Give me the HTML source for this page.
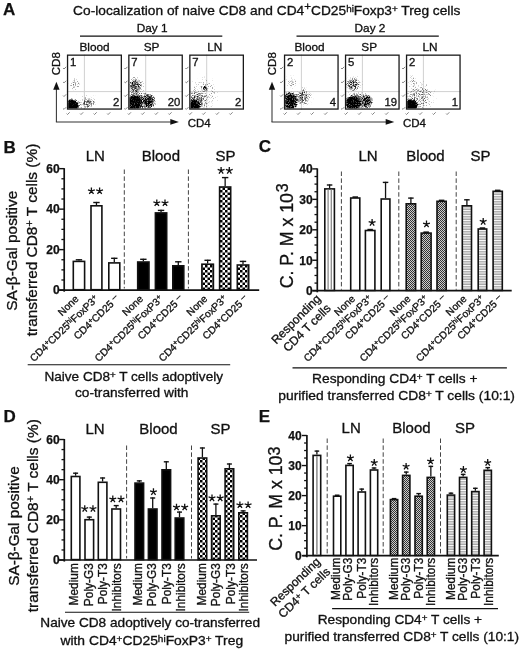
<!DOCTYPE html>
<html><head><meta charset="utf-8"><style>
html,body{margin:0;padding:0;background:#fff;}
svg{display:block;font-family:"Liberation Sans", sans-serif;will-change:transform;}
text{stroke:#111;stroke-width:0.32px;}
text[font-weight=bold]{stroke-width:0.25px;}
</style></head><body>
<svg width="520" height="650" viewBox="0 0 520 650">
<defs>
<pattern id="chk" patternUnits="userSpaceOnUse" width="5" height="5" x="0" y="0">
 <rect width="5" height="5" fill="#fff"/><rect width="2.5" height="2.5" fill="#000"/><rect x="2.5" y="2.5" width="2.5" height="2.5" fill="#000"/>
</pattern>
<pattern id="fine" patternUnits="userSpaceOnUse" width="2" height="2">
 <rect width="2" height="2" fill="#ccc"/><rect width="1" height="1" fill="#333"/><rect x="1" y="1" width="1" height="1" fill="#333"/>
</pattern>
<pattern id="hs" patternUnits="userSpaceOnUse" width="4" height="2.5">
 <rect width="4" height="2.5" fill="#a8a8a8"/><rect y="0" width="4" height="1" fill="#fff"/>
</pattern>
<filter id="b1" x="-50%" y="-50%" width="200%" height="200%"><feGaussianBlur stdDeviation="1"/></filter>
<filter id="b2" x="-50%" y="-50%" width="200%" height="200%"><feGaussianBlur stdDeviation="2"/></filter>
<filter id="b3" x="-50%" y="-50%" width="200%" height="200%"><feGaussianBlur stdDeviation="3"/></filter>
</defs>
<rect width="520" height="650" fill="#fff"/>
<text x="3.10" y="15.40" font-size="17" text-anchor="start" font-weight="bold" fill="#111">A</text>
<text x="73.10" y="14.80" font-size="13" text-anchor="start" font-weight="normal" fill="#111" textLength="387.20" lengthAdjust="spacingAndGlyphs">Co-localization of naive CD8 and CD4<tspan baseline-shift="45%" font-size="85%">+</tspan>CD25<tspan baseline-shift="38%" font-size="72%">hi</tspan>Foxp3<tspan baseline-shift="38%" font-size="72%">+</tspan> Treg cells</text>
<line x1="80.00" y1="36.10" x2="222.30" y2="36.10" stroke="#111" stroke-width="1.1"/>
<line x1="296.50" y1="36.10" x2="438.80" y2="36.10" stroke="#111" stroke-width="1.1"/>
<text x="152.10" y="32.30" font-size="11.8" text-anchor="middle" font-weight="normal" fill="#111">Day 1</text>
<text x="370.00" y="32.30" font-size="11.8" text-anchor="middle" font-weight="normal" fill="#111">Day 2</text>
<clipPath id="cp0"><rect x="68.20" y="55.80" width="52.50" height="52.60"/></clipPath>
<line x1="84.40" y1="54.50" x2="84.40" y2="109.70" stroke="#d0d0d0" stroke-width="1"/>
<line x1="66.90" y1="91.60" x2="122.00" y2="91.60" stroke="#d0d0d0" stroke-width="1"/>
<filter id="spk0" filterUnits="userSpaceOnUse" x="66.9" y="54.5" width="55.099999999999994" height="55.2"><feTurbulence type="fractalNoise" baseFrequency="0.9" numOctaves="2" seed="3" result="t"/><feColorMatrix in="t" type="matrix" values="0 0 0 0 0  0 0 0 0 0  0 0 0 0 0  2.2 0 0 0 -0.6" result="n"/><feComposite in="SourceGraphic" in2="n" operator="arithmetic" k1="0" k2="1.9" k3="1" k4="-1.0"/><feGaussianBlur stdDeviation="0.35"/></filter>
<g clip-path="url(#cp0)"><g filter="url(#spk0)">
<rect x="66.9" y="54.5" width="55.099999999999994" height="55.2" fill="#000" opacity="0.001"/>
<ellipse cx="82" cy="104" rx="13" ry="6" fill="#000" opacity="0.25" filter="url(#b3)"/>
<ellipse cx="75" cy="84" rx="5" ry="5" fill="#000" opacity="0.35" filter="url(#b2)"/>
<ellipse cx="89" cy="102.5" rx="6" ry="5" fill="#000" opacity="0.4" filter="url(#b2)"/>
<ellipse cx="71" cy="106.5" rx="7.5" ry="7" fill="#000" opacity="1" filter="url(#b1)"/>
</g></g>
<rect x="67.55" y="55.15" width="53.80" height="53.90" fill="none" stroke="#1a1a1a" stroke-width="1.3"/>
<text x="94.50" y="50.70" font-size="11.8" text-anchor="middle" font-weight="normal" fill="#111">Blood</text>
<text x="69.90" y="66.20" font-size="11.3" text-anchor="start" font-weight="normal" fill="#111">1</text>
<text x="119.40" y="106.40" font-size="11.3" text-anchor="end" font-weight="normal" fill="#111">2</text>
<path d="M63.10,68.10l0.9,0.9l2.2,-2.2" stroke="#7a7a7a" stroke-width="0.95" fill="none"/>
<path d="M63.10,82.00l0.9,0.9l2.2,-2.2" stroke="#7a7a7a" stroke-width="0.95" fill="none"/>
<path d="M63.10,95.60l0.9,0.9l2.2,-2.2" stroke="#7a7a7a" stroke-width="0.95" fill="none"/>
<path d="M63.10,108.50l0.9,0.9l2.2,-2.2" stroke="#7a7a7a" stroke-width="0.95" fill="none"/>
<path d="M66.60,113.60l0.9,0.9l2.2,-2.2" stroke="#7a7a7a" stroke-width="0.95" fill="none"/>
<path d="M80.10,113.60l0.9,0.9l2.2,-2.2" stroke="#7a7a7a" stroke-width="0.95" fill="none"/>
<path d="M93.60,113.60l0.9,0.9l2.2,-2.2" stroke="#7a7a7a" stroke-width="0.95" fill="none"/>
<path d="M107.20,113.60l0.9,0.9l2.2,-2.2" stroke="#7a7a7a" stroke-width="0.95" fill="none"/>
<clipPath id="cp1"><rect x="129.50" y="55.80" width="52.10" height="52.60"/></clipPath>
<line x1="145.70" y1="54.50" x2="145.70" y2="109.70" stroke="#d0d0d0" stroke-width="1"/>
<line x1="128.20" y1="91.60" x2="182.90" y2="91.60" stroke="#d0d0d0" stroke-width="1"/>
<filter id="spk1" filterUnits="userSpaceOnUse" x="128.2" y="54.5" width="54.70000000000002" height="55.2"><feTurbulence type="fractalNoise" baseFrequency="0.9" numOctaves="2" seed="10" result="t"/><feColorMatrix in="t" type="matrix" values="0 0 0 0 0  0 0 0 0 0  0 0 0 0 0  2.2 0 0 0 -0.6" result="n"/><feComposite in="SourceGraphic" in2="n" operator="arithmetic" k1="0" k2="1.9" k3="1" k4="-1.0"/><feGaussianBlur stdDeviation="0.35"/></filter>
<g clip-path="url(#cp1)"><g filter="url(#spk1)">
<rect x="128.2" y="54.5" width="54.70000000000002" height="55.2" fill="#000" opacity="0.001"/>
<ellipse cx="135" cy="86" rx="7" ry="8" fill="#000" opacity="0.58" filter="url(#b2)"/>
<ellipse cx="142" cy="101" rx="12" ry="8" fill="#000" opacity="0.5" filter="url(#b2)"/>
<ellipse cx="149.5" cy="101.5" rx="5.5" ry="7" fill="#000" opacity="0.5" filter="url(#b1)"/>
<ellipse cx="134" cy="103" rx="7.5" ry="8" fill="#000" opacity="0.8" filter="url(#b1)"/>
</g></g>
<rect x="128.85" y="55.15" width="53.40" height="53.90" fill="none" stroke="#1a1a1a" stroke-width="1.3"/>
<text x="151.60" y="50.70" font-size="11.8" text-anchor="middle" font-weight="normal" fill="#111">SP</text>
<text x="131.20" y="66.20" font-size="11.3" text-anchor="start" font-weight="normal" fill="#111">7</text>
<text x="180.30" y="106.40" font-size="11.3" text-anchor="end" font-weight="normal" fill="#111">20</text>
<path d="M124.40,68.10l0.9,0.9l2.2,-2.2" stroke="#7a7a7a" stroke-width="0.95" fill="none"/>
<path d="M124.40,82.00l0.9,0.9l2.2,-2.2" stroke="#7a7a7a" stroke-width="0.95" fill="none"/>
<path d="M124.40,95.60l0.9,0.9l2.2,-2.2" stroke="#7a7a7a" stroke-width="0.95" fill="none"/>
<path d="M124.40,108.50l0.9,0.9l2.2,-2.2" stroke="#7a7a7a" stroke-width="0.95" fill="none"/>
<path d="M127.90,113.60l0.9,0.9l2.2,-2.2" stroke="#7a7a7a" stroke-width="0.95" fill="none"/>
<path d="M141.40,113.60l0.9,0.9l2.2,-2.2" stroke="#7a7a7a" stroke-width="0.95" fill="none"/>
<path d="M154.90,113.60l0.9,0.9l2.2,-2.2" stroke="#7a7a7a" stroke-width="0.95" fill="none"/>
<path d="M168.50,113.60l0.9,0.9l2.2,-2.2" stroke="#7a7a7a" stroke-width="0.95" fill="none"/>
<clipPath id="cp2"><rect x="190.50" y="55.80" width="52.20" height="52.60"/></clipPath>
<line x1="206.70" y1="54.50" x2="206.70" y2="109.70" stroke="#d0d0d0" stroke-width="1"/>
<line x1="189.20" y1="91.60" x2="244.00" y2="91.60" stroke="#d0d0d0" stroke-width="1"/>
<filter id="spk2" filterUnits="userSpaceOnUse" x="189.2" y="54.5" width="54.80000000000001" height="55.2"><feTurbulence type="fractalNoise" baseFrequency="0.9" numOctaves="2" seed="17" result="t"/><feColorMatrix in="t" type="matrix" values="0 0 0 0 0  0 0 0 0 0  0 0 0 0 0  2.2 0 0 0 -0.6" result="n"/><feComposite in="SourceGraphic" in2="n" operator="arithmetic" k1="0" k2="1.9" k3="1" k4="-1.0"/><feGaussianBlur stdDeviation="0.35"/></filter>
<g clip-path="url(#cp2)"><g filter="url(#spk2)">
<rect x="189.2" y="54.5" width="54.80000000000001" height="55.2" fill="#000" opacity="0.001"/>
<ellipse cx="203" cy="94" rx="14" ry="15" fill="#000" opacity="0.22" filter="url(#b3)"/>
<ellipse cx="197" cy="101" rx="8" ry="9" fill="#000" opacity="0.35" filter="url(#b2)"/>
<ellipse cx="205" cy="88.3" rx="1.8" ry="2.2" fill="#000" opacity="0.85" filter="url(#b1)"/>
<ellipse cx="194" cy="105.5" rx="6" ry="5.5" fill="#000" opacity="0.88" filter="url(#b1)"/>
</g></g>
<rect x="189.85" y="55.15" width="53.50" height="53.90" fill="none" stroke="#1a1a1a" stroke-width="1.3"/>
<text x="214.75" y="50.70" font-size="11.8" text-anchor="middle" font-weight="normal" fill="#111">LN</text>
<text x="192.20" y="66.20" font-size="11.3" text-anchor="start" font-weight="normal" fill="#111">7</text>
<text x="241.40" y="106.40" font-size="11.3" text-anchor="end" font-weight="normal" fill="#111">2</text>
<path d="M185.40,68.10l0.9,0.9l2.2,-2.2" stroke="#7a7a7a" stroke-width="0.95" fill="none"/>
<path d="M185.40,82.00l0.9,0.9l2.2,-2.2" stroke="#7a7a7a" stroke-width="0.95" fill="none"/>
<path d="M185.40,95.60l0.9,0.9l2.2,-2.2" stroke="#7a7a7a" stroke-width="0.95" fill="none"/>
<path d="M185.40,108.50l0.9,0.9l2.2,-2.2" stroke="#7a7a7a" stroke-width="0.95" fill="none"/>
<path d="M188.90,113.60l0.9,0.9l2.2,-2.2" stroke="#7a7a7a" stroke-width="0.95" fill="none"/>
<path d="M202.40,113.60l0.9,0.9l2.2,-2.2" stroke="#7a7a7a" stroke-width="0.95" fill="none"/>
<path d="M215.90,113.60l0.9,0.9l2.2,-2.2" stroke="#7a7a7a" stroke-width="0.95" fill="none"/>
<path d="M229.50,113.60l0.9,0.9l2.2,-2.2" stroke="#7a7a7a" stroke-width="0.95" fill="none"/>
<clipPath id="cp3"><rect x="285.20" y="55.80" width="52.20" height="52.60"/></clipPath>
<line x1="301.40" y1="54.50" x2="301.40" y2="109.70" stroke="#d0d0d0" stroke-width="1"/>
<line x1="283.90" y1="91.60" x2="338.70" y2="91.60" stroke="#d0d0d0" stroke-width="1"/>
<filter id="spk3" filterUnits="userSpaceOnUse" x="283.9" y="54.5" width="54.80000000000001" height="55.2"><feTurbulence type="fractalNoise" baseFrequency="0.9" numOctaves="2" seed="24" result="t"/><feColorMatrix in="t" type="matrix" values="0 0 0 0 0  0 0 0 0 0  0 0 0 0 0  2.2 0 0 0 -0.6" result="n"/><feComposite in="SourceGraphic" in2="n" operator="arithmetic" k1="0" k2="1.9" k3="1" k4="-1.0"/><feGaussianBlur stdDeviation="0.35"/></filter>
<g clip-path="url(#cp3)"><g filter="url(#spk3)">
<rect x="283.9" y="54.5" width="54.80000000000001" height="55.2" fill="#000" opacity="0.001"/>
<ellipse cx="291.5" cy="82.5" rx="5" ry="4.5" fill="#000" opacity="0.35" filter="url(#b2)"/>
<ellipse cx="303" cy="97" rx="7" ry="8" fill="#000" opacity="0.48" filter="url(#b2)"/>
<ellipse cx="290" cy="101.5" rx="7.5" ry="9.5" fill="#000" opacity="0.78" filter="url(#b1)"/>
</g></g>
<rect x="284.55" y="55.15" width="53.50" height="53.90" fill="none" stroke="#1a1a1a" stroke-width="1.3"/>
<text x="309.60" y="50.70" font-size="11.8" text-anchor="middle" font-weight="normal" fill="#111">Blood</text>
<text x="286.90" y="66.20" font-size="11.3" text-anchor="start" font-weight="normal" fill="#111">2</text>
<text x="336.10" y="106.40" font-size="11.3" text-anchor="end" font-weight="normal" fill="#111">4</text>
<path d="M280.10,68.10l0.9,0.9l2.2,-2.2" stroke="#7a7a7a" stroke-width="0.95" fill="none"/>
<path d="M280.10,82.00l0.9,0.9l2.2,-2.2" stroke="#7a7a7a" stroke-width="0.95" fill="none"/>
<path d="M280.10,95.60l0.9,0.9l2.2,-2.2" stroke="#7a7a7a" stroke-width="0.95" fill="none"/>
<path d="M280.10,108.50l0.9,0.9l2.2,-2.2" stroke="#7a7a7a" stroke-width="0.95" fill="none"/>
<path d="M283.60,113.60l0.9,0.9l2.2,-2.2" stroke="#7a7a7a" stroke-width="0.95" fill="none"/>
<path d="M297.10,113.60l0.9,0.9l2.2,-2.2" stroke="#7a7a7a" stroke-width="0.95" fill="none"/>
<path d="M310.60,113.60l0.9,0.9l2.2,-2.2" stroke="#7a7a7a" stroke-width="0.95" fill="none"/>
<path d="M324.20,113.60l0.9,0.9l2.2,-2.2" stroke="#7a7a7a" stroke-width="0.95" fill="none"/>
<clipPath id="cp4"><rect x="346.20" y="55.80" width="52.20" height="52.60"/></clipPath>
<line x1="362.40" y1="54.50" x2="362.40" y2="109.70" stroke="#d0d0d0" stroke-width="1"/>
<line x1="344.90" y1="91.60" x2="399.70" y2="91.60" stroke="#d0d0d0" stroke-width="1"/>
<filter id="spk4" filterUnits="userSpaceOnUse" x="344.9" y="54.5" width="54.80000000000001" height="55.2"><feTurbulence type="fractalNoise" baseFrequency="0.9" numOctaves="2" seed="31" result="t"/><feColorMatrix in="t" type="matrix" values="0 0 0 0 0  0 0 0 0 0  0 0 0 0 0  2.2 0 0 0 -0.6" result="n"/><feComposite in="SourceGraphic" in2="n" operator="arithmetic" k1="0" k2="1.9" k3="1" k4="-1.0"/><feGaussianBlur stdDeviation="0.35"/></filter>
<g clip-path="url(#cp4)"><g filter="url(#spk4)">
<rect x="344.9" y="54.5" width="54.80000000000001" height="55.2" fill="#000" opacity="0.001"/>
<ellipse cx="353" cy="84.6" rx="7" ry="7" fill="#000" opacity="0.55" filter="url(#b2)"/>
<ellipse cx="360" cy="101" rx="11" ry="8" fill="#000" opacity="0.48" filter="url(#b2)"/>
<ellipse cx="367.7" cy="101.5" rx="5" ry="6.5" fill="#000" opacity="0.52" filter="url(#b1)"/>
<ellipse cx="352.5" cy="103" rx="8" ry="7.5" fill="#000" opacity="0.78" filter="url(#b1)"/>
</g></g>
<rect x="345.55" y="55.15" width="53.50" height="53.90" fill="none" stroke="#1a1a1a" stroke-width="1.3"/>
<text x="369.20" y="50.70" font-size="11.8" text-anchor="middle" font-weight="normal" fill="#111">SP</text>
<text x="347.90" y="66.20" font-size="11.3" text-anchor="start" font-weight="normal" fill="#111">5</text>
<text x="397.10" y="106.40" font-size="11.3" text-anchor="end" font-weight="normal" fill="#111">19</text>
<path d="M341.10,68.10l0.9,0.9l2.2,-2.2" stroke="#7a7a7a" stroke-width="0.95" fill="none"/>
<path d="M341.10,82.00l0.9,0.9l2.2,-2.2" stroke="#7a7a7a" stroke-width="0.95" fill="none"/>
<path d="M341.10,95.60l0.9,0.9l2.2,-2.2" stroke="#7a7a7a" stroke-width="0.95" fill="none"/>
<path d="M341.10,108.50l0.9,0.9l2.2,-2.2" stroke="#7a7a7a" stroke-width="0.95" fill="none"/>
<path d="M344.60,113.60l0.9,0.9l2.2,-2.2" stroke="#7a7a7a" stroke-width="0.95" fill="none"/>
<path d="M358.10,113.60l0.9,0.9l2.2,-2.2" stroke="#7a7a7a" stroke-width="0.95" fill="none"/>
<path d="M371.60,113.60l0.9,0.9l2.2,-2.2" stroke="#7a7a7a" stroke-width="0.95" fill="none"/>
<path d="M385.20,113.60l0.9,0.9l2.2,-2.2" stroke="#7a7a7a" stroke-width="0.95" fill="none"/>
<clipPath id="cp5"><rect x="407.20" y="55.80" width="52.20" height="52.60"/></clipPath>
<line x1="423.40" y1="54.50" x2="423.40" y2="109.70" stroke="#d0d0d0" stroke-width="1"/>
<line x1="405.90" y1="91.60" x2="460.70" y2="91.60" stroke="#d0d0d0" stroke-width="1"/>
<filter id="spk5" filterUnits="userSpaceOnUse" x="405.9" y="54.5" width="54.80000000000001" height="55.2"><feTurbulence type="fractalNoise" baseFrequency="0.9" numOctaves="2" seed="38" result="t"/><feColorMatrix in="t" type="matrix" values="0 0 0 0 0  0 0 0 0 0  0 0 0 0 0  2.2 0 0 0 -0.6" result="n"/><feComposite in="SourceGraphic" in2="n" operator="arithmetic" k1="0" k2="1.9" k3="1" k4="-1.0"/><feGaussianBlur stdDeviation="0.35"/></filter>
<g clip-path="url(#cp5)"><g filter="url(#spk5)">
<rect x="405.9" y="54.5" width="54.80000000000001" height="55.2" fill="#000" opacity="0.001"/>
<ellipse cx="420" cy="96" rx="13" ry="12" fill="#000" opacity="0.33" filter="url(#b3)"/>
<ellipse cx="412.7" cy="80.5" rx="3.5" ry="3.5" fill="#000" opacity="0.35" filter="url(#b2)"/>
<ellipse cx="410.5" cy="106" rx="7" ry="6.5" fill="#000" opacity="1" filter="url(#b1)"/>
</g></g>
<rect x="406.55" y="55.15" width="53.50" height="53.90" fill="none" stroke="#1a1a1a" stroke-width="1.3"/>
<text x="430.10" y="50.70" font-size="11.8" text-anchor="middle" font-weight="normal" fill="#111">LN</text>
<text x="408.90" y="66.20" font-size="11.3" text-anchor="start" font-weight="normal" fill="#111">2</text>
<text x="458.10" y="106.40" font-size="11.3" text-anchor="end" font-weight="normal" fill="#111">1</text>
<path d="M402.10,68.10l0.9,0.9l2.2,-2.2" stroke="#7a7a7a" stroke-width="0.95" fill="none"/>
<path d="M402.10,82.00l0.9,0.9l2.2,-2.2" stroke="#7a7a7a" stroke-width="0.95" fill="none"/>
<path d="M402.10,95.60l0.9,0.9l2.2,-2.2" stroke="#7a7a7a" stroke-width="0.95" fill="none"/>
<path d="M402.10,108.50l0.9,0.9l2.2,-2.2" stroke="#7a7a7a" stroke-width="0.95" fill="none"/>
<path d="M405.60,113.60l0.9,0.9l2.2,-2.2" stroke="#7a7a7a" stroke-width="0.95" fill="none"/>
<path d="M419.10,113.60l0.9,0.9l2.2,-2.2" stroke="#7a7a7a" stroke-width="0.95" fill="none"/>
<path d="M432.60,113.60l0.9,0.9l2.2,-2.2" stroke="#7a7a7a" stroke-width="0.95" fill="none"/>
<path d="M446.20,113.60l0.9,0.9l2.2,-2.2" stroke="#7a7a7a" stroke-width="0.95" fill="none"/>
<line x1="56.40" y1="121.90" x2="56.40" y2="89.00" stroke="#333" stroke-width="1.05"/>
<path d="M56.40,81.7L59.60,89.8L53.20,89.8Z" fill="#111"/>
<line x1="55.90" y1="121.90" x2="170.90" y2="121.90" stroke="#333" stroke-width="1.05"/>
<path d="M178.90,121.90L170.30,119.10L170.30,124.70Z" fill="#111"/>
<text x="60.30" y="75.20" font-size="11.5" text-anchor="start" font-weight="normal" fill="#111" transform="rotate(-90 60.30 75.20)">CD8</text>
<text x="187.70" y="126.50" font-size="11.5" text-anchor="start" font-weight="normal" fill="#111">CD4</text>
<line x1="272.00" y1="121.90" x2="272.00" y2="89.00" stroke="#333" stroke-width="1.05"/>
<path d="M272.00,81.7L275.20,89.8L268.80,89.8Z" fill="#111"/>
<line x1="271.50" y1="121.90" x2="386.30" y2="121.90" stroke="#333" stroke-width="1.05"/>
<path d="M394.30,121.90L385.70,119.10L385.70,124.70Z" fill="#111"/>
<text x="276.00" y="75.20" font-size="11.5" text-anchor="start" font-weight="normal" fill="#111" transform="rotate(-90 276.00 75.20)">CD8</text>
<text x="403.00" y="126.50" font-size="11.5" text-anchor="start" font-weight="normal" fill="#111">CD4</text>
<text x="3.50" y="152.50" font-size="17" text-anchor="start" font-weight="bold" fill="#111">B</text>
<text x="17.40" y="310.80" font-size="15" text-anchor="start" font-weight="normal" fill="#111" transform="rotate(-90 17.40 310.80)" textLength="120.00" lengthAdjust="spacingAndGlyphs">SA-β-Gal positive</text>
<text x="37.50" y="336.20" font-size="15" text-anchor="start" font-weight="normal" fill="#111" transform="rotate(-90 37.50 336.20)" textLength="192.50" lengthAdjust="spacingAndGlyphs">transferred CD8<tspan baseline-shift="38%" font-size="72%">+</tspan> T cells (%)</text>
<line x1="64.20" y1="168.15" x2="64.20" y2="291.70" stroke="#111" stroke-width="1.7"/>
<line x1="59.20" y1="290.10" x2="64.20" y2="290.10" stroke="#111" stroke-width="1.4"/>
<line x1="61.40" y1="279.98" x2="64.20" y2="279.98" stroke="#111" stroke-width="1.3"/>
<line x1="61.40" y1="269.86" x2="64.20" y2="269.86" stroke="#111" stroke-width="1.3"/>
<line x1="61.40" y1="259.74" x2="64.20" y2="259.74" stroke="#111" stroke-width="1.3"/>
<line x1="59.20" y1="249.62" x2="64.20" y2="249.62" stroke="#111" stroke-width="1.4"/>
<line x1="61.40" y1="239.50" x2="64.20" y2="239.50" stroke="#111" stroke-width="1.3"/>
<line x1="61.40" y1="229.38" x2="64.20" y2="229.38" stroke="#111" stroke-width="1.3"/>
<line x1="61.40" y1="219.26" x2="64.20" y2="219.26" stroke="#111" stroke-width="1.3"/>
<line x1="59.20" y1="209.14" x2="64.20" y2="209.14" stroke="#111" stroke-width="1.4"/>
<line x1="61.40" y1="199.02" x2="64.20" y2="199.02" stroke="#111" stroke-width="1.3"/>
<line x1="61.40" y1="188.90" x2="64.20" y2="188.90" stroke="#111" stroke-width="1.3"/>
<line x1="61.40" y1="178.78" x2="64.20" y2="178.78" stroke="#111" stroke-width="1.3"/>
<line x1="59.20" y1="168.66" x2="64.20" y2="168.66" stroke="#111" stroke-width="1.4"/>
<text x="59.60" y="294.40" font-size="12" text-anchor="end" font-weight="bold" fill="#111">0</text>
<text x="59.60" y="253.92" font-size="12" text-anchor="end" font-weight="bold" fill="#111">20</text>
<text x="59.60" y="213.44" font-size="12" text-anchor="end" font-weight="bold" fill="#111">40</text>
<text x="59.60" y="172.96" font-size="12" text-anchor="end" font-weight="bold" fill="#111">60</text>
<line x1="59.20" y1="290.10" x2="259.20" y2="290.10" stroke="#111" stroke-width="1.7"/>
<line x1="124.30" y1="169.50" x2="124.30" y2="288.50" stroke="#444" stroke-width="1.0" stroke-dasharray="4.5,2.4"/>
<line x1="188.40" y1="169.50" x2="188.40" y2="288.50" stroke="#444" stroke-width="1.0" stroke-dasharray="4.5,2.4"/>
<line x1="78.95" y1="259.20" x2="78.95" y2="260.60" stroke="#111" stroke-width="1.3"/>
<line x1="75.75" y1="259.80" x2="82.15" y2="259.80" stroke="#111" stroke-width="1.4"/>
<rect x="73.30" y="261.40" width="11.30" height="28.30" fill="#fff" stroke="#111" stroke-width="1.6"/>
<line x1="96.45" y1="201.90" x2="96.45" y2="205.00" stroke="#111" stroke-width="1.3"/>
<line x1="93.25" y1="202.50" x2="99.65" y2="202.50" stroke="#111" stroke-width="1.4"/>
<rect x="91.00" y="205.80" width="10.90" height="83.90" fill="#fff" stroke="#111" stroke-width="1.6"/>
<line x1="114.30" y1="257.70" x2="114.30" y2="262.10" stroke="#111" stroke-width="1.3"/>
<line x1="111.10" y1="258.30" x2="117.50" y2="258.30" stroke="#111" stroke-width="1.4"/>
<rect x="108.80" y="262.90" width="11.00" height="26.80" fill="#fff" stroke="#111" stroke-width="1.6"/>
<line x1="143.35" y1="258.70" x2="143.35" y2="261.20" stroke="#111" stroke-width="1.3"/>
<line x1="140.15" y1="259.30" x2="146.55" y2="259.30" stroke="#111" stroke-width="1.4"/>
<rect x="137.70" y="262.00" width="11.30" height="27.70" fill="#000" stroke="#111" stroke-width="1.6"/>
<line x1="161.05" y1="209.80" x2="161.05" y2="212.10" stroke="#111" stroke-width="1.3"/>
<line x1="157.85" y1="210.40" x2="164.25" y2="210.40" stroke="#111" stroke-width="1.4"/>
<rect x="155.40" y="212.90" width="11.30" height="76.80" fill="#000" stroke="#111" stroke-width="1.6"/>
<line x1="178.30" y1="261.20" x2="178.30" y2="265.00" stroke="#111" stroke-width="1.3"/>
<line x1="175.10" y1="261.80" x2="181.50" y2="261.80" stroke="#111" stroke-width="1.4"/>
<rect x="172.80" y="265.80" width="11.00" height="23.90" fill="#000" stroke="#111" stroke-width="1.6"/>
<line x1="207.65" y1="259.70" x2="207.65" y2="263.40" stroke="#111" stroke-width="1.3"/>
<line x1="204.45" y1="260.30" x2="210.85" y2="260.30" stroke="#111" stroke-width="1.4"/>
<rect x="201.90" y="264.20" width="11.50" height="25.50" fill="url(#chk)" stroke="#111" stroke-width="1.6"/>
<line x1="225.15" y1="177.00" x2="225.15" y2="186.20" stroke="#111" stroke-width="1.3"/>
<line x1="221.95" y1="177.60" x2="228.35" y2="177.60" stroke="#111" stroke-width="1.4"/>
<rect x="219.60" y="187.00" width="11.10" height="102.70" fill="url(#chk)" stroke="#111" stroke-width="1.6"/>
<line x1="243.00" y1="260.80" x2="243.00" y2="264.20" stroke="#111" stroke-width="1.3"/>
<line x1="239.80" y1="261.40" x2="246.20" y2="261.40" stroke="#111" stroke-width="1.4"/>
<rect x="237.30" y="265.00" width="11.40" height="24.70" fill="url(#chk)" stroke="#111" stroke-width="1.6"/>
<path d="M91.40,191.00L91.40,187.40M91.40,191.00L94.82,189.89M91.40,191.00L93.52,193.91M91.40,191.00L89.28,193.91M91.40,191.00L87.98,189.89" stroke="#111" stroke-width="1.3" stroke-linecap="butt" fill="none"/>
<path d="M99.60,191.00L99.60,187.40M99.60,191.00L103.02,189.89M99.60,191.00L101.72,193.91M99.60,191.00L97.48,193.91M99.60,191.00L96.18,189.89" stroke="#111" stroke-width="1.3" stroke-linecap="butt" fill="none"/>
<path d="M156.80,203.00L156.80,199.40M156.80,203.00L160.22,201.89M156.80,203.00L158.92,205.91M156.80,203.00L154.68,205.91M156.80,203.00L153.38,201.89" stroke="#111" stroke-width="1.3" stroke-linecap="butt" fill="none"/>
<path d="M165.00,203.00L165.00,199.40M165.00,203.00L168.42,201.89M165.00,203.00L167.12,205.91M165.00,203.00L162.88,205.91M165.00,203.00L161.58,201.89" stroke="#111" stroke-width="1.3" stroke-linecap="butt" fill="none"/>
<path d="M221.10,170.60L221.10,167.00M221.10,170.60L224.52,169.49M221.10,170.60L223.22,173.51M221.10,170.60L218.98,173.51M221.10,170.60L217.68,169.49" stroke="#111" stroke-width="1.3" stroke-linecap="butt" fill="none"/>
<path d="M229.30,170.60L229.30,167.00M229.30,170.60L232.72,169.49M229.30,170.60L231.42,173.51M229.30,170.60L227.18,173.51M229.30,170.60L225.88,169.49" stroke="#111" stroke-width="1.3" stroke-linecap="butt" fill="none"/>
<text x="95.30" y="160.80" font-size="15" text-anchor="middle" font-weight="normal" fill="#111">LN</text>
<text x="160.85" y="160.80" font-size="15" text-anchor="middle" font-weight="normal" fill="#111">Blood</text>
<text x="225.40" y="160.80" font-size="15" text-anchor="middle" font-weight="normal" fill="#111">SP</text>
<text x="79.45" y="299.50" font-size="10.2" text-anchor="end" font-weight="normal" fill="#111" transform="rotate(-44 79.45 299.50)">None</text>
<text x="98.95" y="299.50" font-size="10.2" text-anchor="end" font-weight="normal" fill="#111" transform="rotate(-44 98.95 299.50)">CD4<tspan baseline-shift="38%" font-size="72%">+</tspan>CD25<tspan baseline-shift="38%" font-size="72%">hi</tspan>FoxP3<tspan baseline-shift="38%" font-size="72%">+</tspan></text>
<text x="119.80" y="299.50" font-size="10.2" text-anchor="end" font-weight="normal" fill="#111" transform="rotate(-44 119.80 299.50)">CD4<tspan baseline-shift="38%" font-size="72%">+</tspan>CD25 <tspan baseline-shift="38%" font-size="85%">–</tspan></text>
<text x="143.85" y="299.50" font-size="10.2" text-anchor="end" font-weight="normal" fill="#111" transform="rotate(-44 143.85 299.50)">None</text>
<text x="163.55" y="299.50" font-size="10.2" text-anchor="end" font-weight="normal" fill="#111" transform="rotate(-44 163.55 299.50)">CD4<tspan baseline-shift="38%" font-size="72%">+</tspan>CD25<tspan baseline-shift="38%" font-size="72%">hi</tspan>FoxP3<tspan baseline-shift="38%" font-size="72%">+</tspan></text>
<text x="183.80" y="299.50" font-size="10.2" text-anchor="end" font-weight="normal" fill="#111" transform="rotate(-44 183.80 299.50)">CD4<tspan baseline-shift="38%" font-size="72%">+</tspan>CD25 <tspan baseline-shift="38%" font-size="85%">–</tspan></text>
<text x="208.15" y="299.50" font-size="10.2" text-anchor="end" font-weight="normal" fill="#111" transform="rotate(-44 208.15 299.50)">None</text>
<text x="227.65" y="299.50" font-size="10.2" text-anchor="end" font-weight="normal" fill="#111" transform="rotate(-44 227.65 299.50)">CD4<tspan baseline-shift="38%" font-size="72%">+</tspan>CD25<tspan baseline-shift="38%" font-size="72%">hi</tspan>FoxP3<tspan baseline-shift="38%" font-size="72%">+</tspan></text>
<text x="248.50" y="299.50" font-size="10.2" text-anchor="end" font-weight="normal" fill="#111" transform="rotate(-44 248.50 299.50)">CD4<tspan baseline-shift="38%" font-size="72%">+</tspan>CD25 <tspan baseline-shift="38%" font-size="85%">–</tspan></text>
<line x1="27.70" y1="364.80" x2="230.20" y2="364.80" stroke="#111" stroke-width="1.1"/>
<text x="44.50" y="381.20" font-size="13" text-anchor="start" font-weight="normal" fill="#111" textLength="178.50" lengthAdjust="spacingAndGlyphs">Naive CD8<tspan baseline-shift="38%" font-size="72%">+</tspan> T cells adoptively</text>
<text x="75.00" y="397.30" font-size="13" text-anchor="start" font-weight="normal" fill="#111" textLength="113.40" lengthAdjust="spacingAndGlyphs">co-transferred with</text>
<text x="258.80" y="152.30" font-size="17" text-anchor="start" font-weight="bold" fill="#111">C</text>
<text x="293.00" y="288.30" font-size="17.5" text-anchor="start" font-weight="normal" fill="#111" transform="rotate(-90 293.00 288.30)" textLength="95.30" lengthAdjust="spacingAndGlyphs">C. P. M x 10</text>
<text x="287.80" y="192.30" font-size="16" text-anchor="start" font-weight="normal" fill="#111" transform="rotate(-90 287.80 192.30)">3</text>
<line x1="317.30" y1="168.40" x2="317.30" y2="292.30" stroke="#111" stroke-width="1.7"/>
<line x1="312.30" y1="290.70" x2="317.30" y2="290.70" stroke="#111" stroke-width="1.4"/>
<line x1="314.50" y1="283.09" x2="317.30" y2="283.09" stroke="#111" stroke-width="1.3"/>
<line x1="314.50" y1="275.47" x2="317.30" y2="275.47" stroke="#111" stroke-width="1.3"/>
<line x1="314.50" y1="267.86" x2="317.30" y2="267.86" stroke="#111" stroke-width="1.3"/>
<line x1="312.30" y1="260.25" x2="317.30" y2="260.25" stroke="#111" stroke-width="1.4"/>
<line x1="314.50" y1="252.64" x2="317.30" y2="252.64" stroke="#111" stroke-width="1.3"/>
<line x1="314.50" y1="245.02" x2="317.30" y2="245.02" stroke="#111" stroke-width="1.3"/>
<line x1="314.50" y1="237.41" x2="317.30" y2="237.41" stroke="#111" stroke-width="1.3"/>
<line x1="312.30" y1="229.80" x2="317.30" y2="229.80" stroke="#111" stroke-width="1.4"/>
<line x1="314.50" y1="222.19" x2="317.30" y2="222.19" stroke="#111" stroke-width="1.3"/>
<line x1="314.50" y1="214.57" x2="317.30" y2="214.57" stroke="#111" stroke-width="1.3"/>
<line x1="314.50" y1="206.96" x2="317.30" y2="206.96" stroke="#111" stroke-width="1.3"/>
<line x1="312.30" y1="199.35" x2="317.30" y2="199.35" stroke="#111" stroke-width="1.4"/>
<line x1="314.50" y1="191.74" x2="317.30" y2="191.74" stroke="#111" stroke-width="1.3"/>
<line x1="314.50" y1="184.12" x2="317.30" y2="184.12" stroke="#111" stroke-width="1.3"/>
<line x1="314.50" y1="176.51" x2="317.30" y2="176.51" stroke="#111" stroke-width="1.3"/>
<line x1="312.30" y1="168.90" x2="317.30" y2="168.90" stroke="#111" stroke-width="1.4"/>
<text x="312.60" y="295.00" font-size="12" text-anchor="end" font-weight="bold" fill="#111">0</text>
<text x="312.60" y="264.55" font-size="12" text-anchor="end" font-weight="bold" fill="#111">10</text>
<text x="312.60" y="234.10" font-size="12" text-anchor="end" font-weight="bold" fill="#111">20</text>
<text x="312.60" y="203.65" font-size="12" text-anchor="end" font-weight="bold" fill="#111">30</text>
<text x="312.60" y="173.20" font-size="12" text-anchor="end" font-weight="bold" fill="#111">40</text>
<line x1="312.50" y1="290.70" x2="511.70" y2="290.70" stroke="#111" stroke-width="1.8"/>
<line x1="341.40" y1="171.50" x2="341.40" y2="289.80" stroke="#444" stroke-width="1.0" stroke-dasharray="4.5,2.4"/>
<line x1="398.80" y1="171.50" x2="398.80" y2="289.80" stroke="#444" stroke-width="1.0" stroke-dasharray="4.5,2.4"/>
<line x1="456.20" y1="171.50" x2="456.20" y2="289.80" stroke="#444" stroke-width="1.0" stroke-dasharray="4.5,2.4"/>
<line x1="329.60" y1="184.40" x2="329.60" y2="188.10" stroke="#111" stroke-width="1.3"/>
<line x1="326.85" y1="185.00" x2="332.35" y2="185.00" stroke="#111" stroke-width="1.4"/>
<rect x="324.80" y="188.90" width="9.60" height="101.50" fill="#fff" stroke="#111" stroke-width="1.6"/>
<line x1="328.10" y1="189.50" x2="328.10" y2="290.00" stroke="#8a8a8a" stroke-width="1.3"/>
<line x1="331.30" y1="189.50" x2="331.30" y2="290.00" stroke="#8a8a8a" stroke-width="1.3"/>
<rect x="350.70" y="198.00" width="9.10" height="92.40" fill="#fff" stroke="#111" stroke-width="1.6"/>
<line x1="352.50" y1="197.10" x2="358.00" y2="197.10" stroke="#111" stroke-width="1.6"/>
<rect x="365.40" y="230.50" width="9.50" height="59.90" fill="#fff" stroke="#111" stroke-width="1.6"/>
<line x1="367.40" y1="229.60" x2="372.90" y2="229.60" stroke="#111" stroke-width="1.6"/>
<line x1="385.55" y1="181.80" x2="385.55" y2="198.20" stroke="#111" stroke-width="1.3"/>
<line x1="382.80" y1="182.40" x2="388.30" y2="182.40" stroke="#111" stroke-width="1.4"/>
<rect x="381.20" y="199.00" width="8.70" height="91.40" fill="#fff" stroke="#111" stroke-width="1.6"/>
<line x1="410.90" y1="197.50" x2="410.90" y2="203.00" stroke="#111" stroke-width="1.3"/>
<line x1="408.15" y1="198.10" x2="413.65" y2="198.10" stroke="#111" stroke-width="1.4"/>
<rect x="406.20" y="203.80" width="9.40" height="86.60" fill="url(#fine)" stroke="#111" stroke-width="1.6"/>
<rect x="421.20" y="233.10" width="9.90" height="57.30" fill="url(#fine)" stroke="#111" stroke-width="1.6"/>
<line x1="423.40" y1="232.20" x2="428.90" y2="232.20" stroke="#111" stroke-width="1.6"/>
<rect x="437.00" y="201.30" width="9.20" height="89.10" fill="url(#fine)" stroke="#111" stroke-width="1.6"/>
<line x1="438.85" y1="200.40" x2="444.35" y2="200.40" stroke="#111" stroke-width="1.6"/>
<line x1="466.90" y1="199.20" x2="466.90" y2="205.00" stroke="#111" stroke-width="1.3"/>
<line x1="464.15" y1="199.80" x2="469.65" y2="199.80" stroke="#111" stroke-width="1.4"/>
<rect x="462.30" y="205.80" width="9.20" height="84.60" fill="url(#hs)" stroke="#111" stroke-width="1.6"/>
<rect x="478.20" y="229.00" width="8.50" height="61.40" fill="url(#hs)" stroke="#111" stroke-width="1.6"/>
<line x1="479.70" y1="228.10" x2="485.20" y2="228.10" stroke="#111" stroke-width="1.6"/>
<rect x="493.10" y="191.30" width="9.20" height="99.10" fill="url(#hs)" stroke="#111" stroke-width="1.6"/>
<line x1="494.95" y1="190.40" x2="500.45" y2="190.40" stroke="#111" stroke-width="1.6"/>
<path d="M372.10,222.70L372.10,219.10M372.10,222.70L375.52,221.59M372.10,222.70L374.22,225.61M372.10,222.70L369.98,225.61M372.10,222.70L368.68,221.59" stroke="#111" stroke-width="1.3" stroke-linecap="butt" fill="none"/>
<path d="M426.50,224.20L426.50,220.60M426.50,224.20L429.92,223.09M426.50,224.20L428.62,227.11M426.50,224.20L424.38,227.11M426.50,224.20L423.08,223.09" stroke="#111" stroke-width="1.3" stroke-linecap="butt" fill="none"/>
<path d="M483.20,221.60L483.20,218.00M483.20,221.60L486.62,220.49M483.20,221.60L485.32,224.51M483.20,221.60L481.08,224.51M483.20,221.60L479.78,220.49" stroke="#111" stroke-width="1.3" stroke-linecap="butt" fill="none"/>
<text x="368.00" y="160.80" font-size="15" text-anchor="middle" font-weight="normal" fill="#111">LN</text>
<text x="425.50" y="160.80" font-size="15" text-anchor="middle" font-weight="normal" fill="#111">Blood</text>
<text x="480.60" y="160.80" font-size="15" text-anchor="middle" font-weight="normal" fill="#111">SP</text>
<text x="355.75" y="299.50" font-size="10.2" text-anchor="end" font-weight="normal" fill="#111" transform="rotate(-44 355.75 299.50)">None</text>
<text x="372.65" y="299.50" font-size="10.2" text-anchor="end" font-weight="normal" fill="#111" transform="rotate(-44 372.65 299.50)">CD4<tspan baseline-shift="38%" font-size="72%">+</tspan>CD25<tspan baseline-shift="38%" font-size="72%">hi</tspan>FoxP3<tspan baseline-shift="38%" font-size="72%">+</tspan></text>
<text x="391.05" y="299.50" font-size="10.2" text-anchor="end" font-weight="normal" fill="#111" transform="rotate(-44 391.05 299.50)">CD4<tspan baseline-shift="38%" font-size="72%">+</tspan>CD25 <tspan baseline-shift="38%" font-size="85%">–</tspan></text>
<text x="411.40" y="299.50" font-size="10.2" text-anchor="end" font-weight="normal" fill="#111" transform="rotate(-44 411.40 299.50)">None</text>
<text x="428.65" y="299.50" font-size="10.2" text-anchor="end" font-weight="normal" fill="#111" transform="rotate(-44 428.65 299.50)">CD4<tspan baseline-shift="38%" font-size="72%">+</tspan>CD25<tspan baseline-shift="38%" font-size="72%">hi</tspan>FoxP3<tspan baseline-shift="38%" font-size="72%">+</tspan></text>
<text x="447.10" y="299.50" font-size="10.2" text-anchor="end" font-weight="normal" fill="#111" transform="rotate(-44 447.10 299.50)">CD4<tspan baseline-shift="38%" font-size="72%">+</tspan>CD25 <tspan baseline-shift="38%" font-size="85%">–</tspan></text>
<text x="467.40" y="299.50" font-size="10.2" text-anchor="end" font-weight="normal" fill="#111" transform="rotate(-44 467.40 299.50)">None</text>
<text x="484.95" y="299.50" font-size="10.2" text-anchor="end" font-weight="normal" fill="#111" transform="rotate(-44 484.95 299.50)">CD4<tspan baseline-shift="38%" font-size="72%">+</tspan>CD25<tspan baseline-shift="38%" font-size="72%">hi</tspan>FoxP3<tspan baseline-shift="38%" font-size="72%">+</tspan></text>
<text x="503.20" y="299.50" font-size="10.2" text-anchor="end" font-weight="normal" fill="#111" transform="rotate(-44 503.20 299.50)">CD4<tspan baseline-shift="38%" font-size="72%">+</tspan>CD25 <tspan baseline-shift="38%" font-size="85%">–</tspan></text>
<text x="321.50" y="299.50" font-size="12" text-anchor="end" font-weight="normal" fill="#111" transform="rotate(-45 321.50 299.50)">Responding</text>
<text x="331.50" y="309.00" font-size="12" text-anchor="end" font-weight="normal" fill="#111" transform="rotate(-45 331.50 309.00)">CD4 T cells</text>
<line x1="292.50" y1="367.90" x2="506.90" y2="367.90" stroke="#111" stroke-width="1.1"/>
<text x="312.10" y="383.00" font-size="13" text-anchor="start" font-weight="normal" fill="#111" textLength="165.50" lengthAdjust="spacingAndGlyphs">Responding CD4<tspan baseline-shift="38%" font-size="72%">+</tspan> T cells +</text>
<text x="278.30" y="399.50" font-size="13" text-anchor="start" font-weight="normal" fill="#111" textLength="236.70" lengthAdjust="spacingAndGlyphs">purified transferred CD8<tspan baseline-shift="38%" font-size="72%">+</tspan> T cells (10:1)</text>
<text x="3.50" y="422.40" font-size="17" text-anchor="start" font-weight="bold" fill="#111">D</text>
<text x="19.00" y="585.80" font-size="15" text-anchor="start" font-weight="normal" fill="#111" transform="rotate(-90 19.00 585.80)" textLength="119.50" lengthAdjust="spacingAndGlyphs">SA-β-Gal positive</text>
<text x="38.00" y="612.20" font-size="15" text-anchor="start" font-weight="normal" fill="#111" transform="rotate(-90 38.00 612.20)" textLength="193.00" lengthAdjust="spacingAndGlyphs">transferred CD8<tspan baseline-shift="38%" font-size="72%">+</tspan> T cells (%)</text>
<line x1="64.30" y1="439.00" x2="64.30" y2="561.60" stroke="#111" stroke-width="1.7"/>
<line x1="59.30" y1="560.00" x2="64.30" y2="560.00" stroke="#111" stroke-width="1.4"/>
<line x1="61.50" y1="549.96" x2="64.30" y2="549.96" stroke="#111" stroke-width="1.3"/>
<line x1="61.50" y1="539.92" x2="64.30" y2="539.92" stroke="#111" stroke-width="1.3"/>
<line x1="61.50" y1="529.88" x2="64.30" y2="529.88" stroke="#111" stroke-width="1.3"/>
<line x1="59.30" y1="519.84" x2="64.30" y2="519.84" stroke="#111" stroke-width="1.4"/>
<line x1="61.50" y1="509.80" x2="64.30" y2="509.80" stroke="#111" stroke-width="1.3"/>
<line x1="61.50" y1="499.76" x2="64.30" y2="499.76" stroke="#111" stroke-width="1.3"/>
<line x1="61.50" y1="489.72" x2="64.30" y2="489.72" stroke="#111" stroke-width="1.3"/>
<line x1="59.30" y1="479.68" x2="64.30" y2="479.68" stroke="#111" stroke-width="1.4"/>
<line x1="61.50" y1="469.64" x2="64.30" y2="469.64" stroke="#111" stroke-width="1.3"/>
<line x1="61.50" y1="459.60" x2="64.30" y2="459.60" stroke="#111" stroke-width="1.3"/>
<line x1="61.50" y1="449.56" x2="64.30" y2="449.56" stroke="#111" stroke-width="1.3"/>
<line x1="59.30" y1="439.52" x2="64.30" y2="439.52" stroke="#111" stroke-width="1.4"/>
<text x="59.60" y="564.30" font-size="12" text-anchor="end" font-weight="bold" fill="#111">0</text>
<text x="59.60" y="524.14" font-size="12" text-anchor="end" font-weight="bold" fill="#111">20</text>
<text x="59.60" y="483.98" font-size="12" text-anchor="end" font-weight="bold" fill="#111">40</text>
<text x="59.60" y="443.82" font-size="12" text-anchor="end" font-weight="bold" fill="#111">60</text>
<line x1="59.00" y1="560.00" x2="257.00" y2="560.00" stroke="#111" stroke-width="1.7"/>
<line x1="126.60" y1="445.50" x2="126.60" y2="558.50" stroke="#444" stroke-width="1.0" stroke-dasharray="4.5,2.4"/>
<line x1="191.50" y1="445.50" x2="191.50" y2="558.50" stroke="#444" stroke-width="1.0" stroke-dasharray="4.5,2.4"/>
<line x1="75.60" y1="472.60" x2="75.60" y2="475.70" stroke="#111" stroke-width="1.3"/>
<line x1="73.10" y1="473.20" x2="78.10" y2="473.20" stroke="#111" stroke-width="1.4"/>
<rect x="71.30" y="476.50" width="8.60" height="83.10" fill="#fff" stroke="#111" stroke-width="1.6"/>
<line x1="89.30" y1="516.50" x2="89.30" y2="518.90" stroke="#111" stroke-width="1.3"/>
<line x1="86.80" y1="517.10" x2="91.80" y2="517.10" stroke="#111" stroke-width="1.4"/>
<rect x="85.00" y="519.70" width="8.60" height="39.90" fill="#fff" stroke="#111" stroke-width="1.6"/>
<line x1="102.60" y1="477.40" x2="102.60" y2="481.50" stroke="#111" stroke-width="1.3"/>
<line x1="100.10" y1="478.00" x2="105.10" y2="478.00" stroke="#111" stroke-width="1.4"/>
<rect x="98.30" y="482.30" width="8.60" height="77.30" fill="#fff" stroke="#111" stroke-width="1.6"/>
<line x1="116.20" y1="505.00" x2="116.20" y2="508.20" stroke="#111" stroke-width="1.3"/>
<line x1="113.70" y1="505.60" x2="118.70" y2="505.60" stroke="#111" stroke-width="1.4"/>
<rect x="111.90" y="509.00" width="8.60" height="50.60" fill="#fff" stroke="#111" stroke-width="1.6"/>
<line x1="139.30" y1="480.30" x2="139.30" y2="482.30" stroke="#111" stroke-width="1.3"/>
<line x1="136.80" y1="480.90" x2="141.80" y2="480.90" stroke="#111" stroke-width="1.4"/>
<rect x="135.00" y="483.10" width="8.60" height="76.50" fill="#000" stroke="#111" stroke-width="1.6"/>
<line x1="152.70" y1="497.40" x2="152.70" y2="508.20" stroke="#111" stroke-width="1.3"/>
<line x1="150.20" y1="498.00" x2="155.20" y2="498.00" stroke="#111" stroke-width="1.4"/>
<rect x="148.40" y="509.00" width="8.60" height="50.60" fill="#000" stroke="#111" stroke-width="1.6"/>
<line x1="166.30" y1="461.20" x2="166.30" y2="469.00" stroke="#111" stroke-width="1.3"/>
<line x1="163.80" y1="461.80" x2="168.80" y2="461.80" stroke="#111" stroke-width="1.4"/>
<rect x="162.00" y="469.80" width="8.60" height="89.80" fill="#000" stroke="#111" stroke-width="1.6"/>
<line x1="179.50" y1="511.50" x2="179.50" y2="517.20" stroke="#111" stroke-width="1.3"/>
<line x1="177.00" y1="512.10" x2="182.00" y2="512.10" stroke="#111" stroke-width="1.4"/>
<rect x="175.20" y="518.00" width="8.60" height="41.60" fill="#000" stroke="#111" stroke-width="1.6"/>
<line x1="202.40" y1="447.40" x2="202.40" y2="457.20" stroke="#111" stroke-width="1.3"/>
<line x1="199.90" y1="448.00" x2="204.90" y2="448.00" stroke="#111" stroke-width="1.4"/>
<rect x="198.10" y="458.00" width="8.60" height="101.60" fill="url(#chk)" stroke="#111" stroke-width="1.6"/>
<line x1="215.90" y1="503.50" x2="215.90" y2="515.00" stroke="#111" stroke-width="1.3"/>
<line x1="213.40" y1="504.10" x2="218.40" y2="504.10" stroke="#111" stroke-width="1.4"/>
<rect x="211.60" y="515.80" width="8.60" height="43.80" fill="url(#chk)" stroke="#111" stroke-width="1.6"/>
<line x1="229.40" y1="463.40" x2="229.40" y2="468.00" stroke="#111" stroke-width="1.3"/>
<line x1="226.90" y1="464.00" x2="231.90" y2="464.00" stroke="#111" stroke-width="1.4"/>
<rect x="225.10" y="468.80" width="8.60" height="90.80" fill="url(#chk)" stroke="#111" stroke-width="1.6"/>
<line x1="243.10" y1="510.30" x2="243.10" y2="512.00" stroke="#111" stroke-width="1.3"/>
<line x1="240.60" y1="510.90" x2="245.60" y2="510.90" stroke="#111" stroke-width="1.4"/>
<rect x="238.80" y="512.80" width="8.60" height="46.80" fill="url(#chk)" stroke="#111" stroke-width="1.6"/>
<path d="M84.75,508.75L84.75,505.15M84.75,508.75L88.17,507.64M84.75,508.75L86.87,511.66M84.75,508.75L82.63,511.66M84.75,508.75L81.33,507.64" stroke="#111" stroke-width="1.3" stroke-linecap="butt" fill="none"/>
<path d="M92.95,508.75L92.95,505.15M92.95,508.75L96.37,507.64M92.95,508.75L95.07,511.66M92.95,508.75L90.83,511.66M92.95,508.75L89.53,507.64" stroke="#111" stroke-width="1.3" stroke-linecap="butt" fill="none"/>
<path d="M112.80,499.15L112.80,495.55M112.80,499.15L116.22,498.04M112.80,499.15L114.92,502.06M112.80,499.15L110.68,502.06M112.80,499.15L109.38,498.04" stroke="#111" stroke-width="1.3" stroke-linecap="butt" fill="none"/>
<path d="M121.00,499.15L121.00,495.55M121.00,499.15L124.42,498.04M121.00,499.15L123.12,502.06M121.00,499.15L118.88,502.06M121.00,499.15L117.58,498.04" stroke="#111" stroke-width="1.3" stroke-linecap="butt" fill="none"/>
<path d="M153.45,491.95L153.45,488.35M153.45,491.95L156.87,490.84M153.45,491.95L155.57,494.86M153.45,491.95L151.33,494.86M153.45,491.95L150.03,490.84" stroke="#111" stroke-width="1.3" stroke-linecap="butt" fill="none"/>
<path d="M176.50,507.30L176.50,503.70M176.50,507.30L179.92,506.19M176.50,507.30L178.62,510.21M176.50,507.30L174.38,510.21M176.50,507.30L173.08,506.19" stroke="#111" stroke-width="1.3" stroke-linecap="butt" fill="none"/>
<path d="M184.70,507.30L184.70,503.70M184.70,507.30L188.12,506.19M184.70,507.30L186.82,510.21M184.70,507.30L182.58,510.21M184.70,507.30L181.28,506.19" stroke="#111" stroke-width="1.3" stroke-linecap="butt" fill="none"/>
<path d="M212.00,498.10L212.00,494.50M212.00,498.10L215.42,496.99M212.00,498.10L214.12,501.01M212.00,498.10L209.88,501.01M212.00,498.10L208.58,496.99" stroke="#111" stroke-width="1.3" stroke-linecap="butt" fill="none"/>
<path d="M220.20,498.10L220.20,494.50M220.20,498.10L223.62,496.99M220.20,498.10L222.32,501.01M220.20,498.10L218.08,501.01M220.20,498.10L216.78,496.99" stroke="#111" stroke-width="1.3" stroke-linecap="butt" fill="none"/>
<path d="M239.90,505.00L239.90,501.40M239.90,505.00L243.32,503.89M239.90,505.00L242.02,507.91M239.90,505.00L237.78,507.91M239.90,505.00L236.48,503.89" stroke="#111" stroke-width="1.3" stroke-linecap="butt" fill="none"/>
<path d="M248.10,505.00L248.10,501.40M248.10,505.00L251.52,503.89M248.10,505.00L250.22,507.91M248.10,505.00L245.98,507.91M248.10,505.00L244.68,503.89" stroke="#111" stroke-width="1.3" stroke-linecap="butt" fill="none"/>
<text x="95.00" y="433.50" font-size="15" text-anchor="middle" font-weight="normal" fill="#111">LN</text>
<text x="158.50" y="433.50" font-size="15" text-anchor="middle" font-weight="normal" fill="#111">Blood</text>
<text x="220.40" y="433.50" font-size="15" text-anchor="middle" font-weight="normal" fill="#111">SP</text>
<text x="78.50" y="563.20" font-size="11.9" text-anchor="end" font-weight="normal" fill="#111" transform="rotate(-90 78.50 563.20)">Medium</text>
<text x="92.60" y="563.20" font-size="11.9" text-anchor="end" font-weight="normal" fill="#111" transform="rotate(-90 92.60 563.20)">Poly-G3</text>
<text x="107.30" y="563.20" font-size="11.9" text-anchor="end" font-weight="normal" fill="#111" transform="rotate(-90 107.30 563.20)">Poly-T3</text>
<text x="120.90" y="563.20" font-size="11.9" text-anchor="end" font-weight="normal" fill="#111" transform="rotate(-90 120.90 563.20)">Inhibitors</text>
<text x="142.30" y="563.20" font-size="11.9" text-anchor="end" font-weight="normal" fill="#111" transform="rotate(-90 142.30 563.20)">Medium</text>
<text x="156.40" y="563.20" font-size="11.9" text-anchor="end" font-weight="normal" fill="#111" transform="rotate(-90 156.40 563.20)">Poly-G3</text>
<text x="171.10" y="563.20" font-size="11.9" text-anchor="end" font-weight="normal" fill="#111" transform="rotate(-90 171.10 563.20)">Poly-T3</text>
<text x="184.70" y="563.20" font-size="11.9" text-anchor="end" font-weight="normal" fill="#111" transform="rotate(-90 184.70 563.20)">Inhibitors</text>
<text x="206.10" y="563.20" font-size="11.9" text-anchor="end" font-weight="normal" fill="#111" transform="rotate(-90 206.10 563.20)">Medium</text>
<text x="220.20" y="563.20" font-size="11.9" text-anchor="end" font-weight="normal" fill="#111" transform="rotate(-90 220.20 563.20)">Poly-G3</text>
<text x="234.90" y="563.20" font-size="11.9" text-anchor="end" font-weight="normal" fill="#111" transform="rotate(-90 234.90 563.20)">Poly-T3</text>
<text x="248.50" y="563.20" font-size="11.9" text-anchor="end" font-weight="normal" fill="#111" transform="rotate(-90 248.50 563.20)">Inhibitors</text>
<line x1="65.00" y1="612.20" x2="249.20" y2="612.20" stroke="#111" stroke-width="1.1"/>
<text x="40.30" y="627.20" font-size="13" text-anchor="start" font-weight="normal" fill="#111" textLength="219.70" lengthAdjust="spacingAndGlyphs">Naive CD8 adoptively co-transferred</text>
<text x="60.40" y="645.00" font-size="13" text-anchor="start" font-weight="normal" fill="#111" textLength="182.70" lengthAdjust="spacingAndGlyphs">with CD4<tspan baseline-shift="38%" font-size="72%">+</tspan>CD25<tspan baseline-shift="38%" font-size="72%">hi</tspan>FoxP3<tspan baseline-shift="38%" font-size="72%">+</tspan> Treg</text>
<text x="258.70" y="422.10" font-size="17" text-anchor="start" font-weight="bold" fill="#111">E</text>
<text x="281.60" y="550.80" font-size="17.5" text-anchor="start" font-weight="normal" fill="#111" transform="rotate(-90 281.60 550.80)" textLength="95.30" lengthAdjust="spacingAndGlyphs">C. P. M x 10</text>
<text x="280.20" y="455.60" font-size="16" text-anchor="start" font-weight="normal" fill="#111" transform="rotate(-90 280.20 455.60)">3</text>
<line x1="306.90" y1="435.00" x2="306.90" y2="557.30" stroke="#111" stroke-width="1.7"/>
<line x1="301.90" y1="555.70" x2="306.90" y2="555.70" stroke="#111" stroke-width="1.4"/>
<line x1="304.10" y1="548.19" x2="306.90" y2="548.19" stroke="#111" stroke-width="1.3"/>
<line x1="304.10" y1="540.68" x2="306.90" y2="540.68" stroke="#111" stroke-width="1.3"/>
<line x1="304.10" y1="533.16" x2="306.90" y2="533.16" stroke="#111" stroke-width="1.3"/>
<line x1="301.90" y1="525.65" x2="306.90" y2="525.65" stroke="#111" stroke-width="1.4"/>
<line x1="304.10" y1="518.14" x2="306.90" y2="518.14" stroke="#111" stroke-width="1.3"/>
<line x1="304.10" y1="510.63" x2="306.90" y2="510.63" stroke="#111" stroke-width="1.3"/>
<line x1="304.10" y1="503.11" x2="306.90" y2="503.11" stroke="#111" stroke-width="1.3"/>
<line x1="301.90" y1="495.60" x2="306.90" y2="495.60" stroke="#111" stroke-width="1.4"/>
<line x1="304.10" y1="488.09" x2="306.90" y2="488.09" stroke="#111" stroke-width="1.3"/>
<line x1="304.10" y1="480.58" x2="306.90" y2="480.58" stroke="#111" stroke-width="1.3"/>
<line x1="304.10" y1="473.06" x2="306.90" y2="473.06" stroke="#111" stroke-width="1.3"/>
<line x1="301.90" y1="465.55" x2="306.90" y2="465.55" stroke="#111" stroke-width="1.4"/>
<line x1="304.10" y1="458.04" x2="306.90" y2="458.04" stroke="#111" stroke-width="1.3"/>
<line x1="304.10" y1="450.53" x2="306.90" y2="450.53" stroke="#111" stroke-width="1.3"/>
<line x1="304.10" y1="443.01" x2="306.90" y2="443.01" stroke="#111" stroke-width="1.3"/>
<line x1="301.90" y1="435.50" x2="306.90" y2="435.50" stroke="#111" stroke-width="1.4"/>
<text x="301.70" y="560.00" font-size="12" text-anchor="end" font-weight="bold" fill="#111">0</text>
<text x="301.70" y="529.95" font-size="12" text-anchor="end" font-weight="bold" fill="#111">10</text>
<text x="301.70" y="499.90" font-size="12" text-anchor="end" font-weight="bold" fill="#111">20</text>
<text x="301.70" y="469.85" font-size="12" text-anchor="end" font-weight="bold" fill="#111">30</text>
<text x="301.70" y="439.80" font-size="12" text-anchor="end" font-weight="bold" fill="#111">40</text>
<line x1="302.50" y1="555.70" x2="498.80" y2="555.70" stroke="#111" stroke-width="1.8"/>
<line x1="327.20" y1="438.50" x2="327.20" y2="554.80" stroke="#444" stroke-width="1.0" stroke-dasharray="4.5,2.4"/>
<line x1="383.20" y1="438.50" x2="383.20" y2="554.80" stroke="#444" stroke-width="1.0" stroke-dasharray="4.5,2.4"/>
<line x1="440.50" y1="438.50" x2="440.50" y2="554.80" stroke="#444" stroke-width="1.0" stroke-dasharray="4.5,2.4"/>
<line x1="316.90" y1="450.50" x2="316.90" y2="454.60" stroke="#111" stroke-width="1.3"/>
<line x1="314.60" y1="451.10" x2="319.20" y2="451.10" stroke="#111" stroke-width="1.4"/>
<rect x="313.10" y="455.40" width="7.60" height="100.00" fill="#fff" stroke="#111" stroke-width="1.6"/>
<line x1="316.90" y1="456.00" x2="316.90" y2="555.00" stroke="#8a8a8a" stroke-width="1.5"/>
<rect x="333.50" y="496.20" width="7.30" height="59.20" fill="#fff" stroke="#111" stroke-width="1.6"/>
<line x1="334.85" y1="495.30" x2="339.45" y2="495.30" stroke="#111" stroke-width="1.6"/>
<line x1="349.55" y1="463.00" x2="349.55" y2="464.60" stroke="#111" stroke-width="1.3"/>
<line x1="347.25" y1="463.60" x2="351.85" y2="463.60" stroke="#111" stroke-width="1.4"/>
<rect x="345.90" y="465.40" width="7.30" height="90.00" fill="#fff" stroke="#111" stroke-width="1.6"/>
<line x1="361.75" y1="488.50" x2="361.75" y2="491.20" stroke="#111" stroke-width="1.3"/>
<line x1="359.45" y1="489.10" x2="364.05" y2="489.10" stroke="#111" stroke-width="1.4"/>
<rect x="358.10" y="492.00" width="7.30" height="63.40" fill="#fff" stroke="#111" stroke-width="1.6"/>
<line x1="374.05" y1="467.40" x2="374.05" y2="469.20" stroke="#111" stroke-width="1.3"/>
<line x1="371.75" y1="468.00" x2="376.35" y2="468.00" stroke="#111" stroke-width="1.4"/>
<rect x="370.40" y="470.00" width="7.30" height="85.40" fill="#fff" stroke="#111" stroke-width="1.6"/>
<rect x="390.40" y="499.60" width="7.30" height="55.80" fill="url(#fine)" stroke="#111" stroke-width="1.6"/>
<line x1="391.75" y1="498.70" x2="396.35" y2="498.70" stroke="#111" stroke-width="1.6"/>
<line x1="406.25" y1="471.50" x2="406.25" y2="474.60" stroke="#111" stroke-width="1.3"/>
<line x1="403.95" y1="472.10" x2="408.55" y2="472.10" stroke="#111" stroke-width="1.4"/>
<rect x="402.60" y="475.40" width="7.30" height="80.00" fill="url(#fine)" stroke="#111" stroke-width="1.6"/>
<line x1="418.65" y1="493.00" x2="418.65" y2="495.40" stroke="#111" stroke-width="1.3"/>
<line x1="416.35" y1="493.60" x2="420.95" y2="493.60" stroke="#111" stroke-width="1.4"/>
<rect x="415.00" y="496.20" width="7.30" height="59.20" fill="url(#fine)" stroke="#111" stroke-width="1.6"/>
<line x1="430.85" y1="465.80" x2="430.85" y2="476.60" stroke="#111" stroke-width="1.3"/>
<line x1="428.55" y1="466.40" x2="433.15" y2="466.40" stroke="#111" stroke-width="1.4"/>
<rect x="427.20" y="477.40" width="7.30" height="78.00" fill="url(#fine)" stroke="#111" stroke-width="1.6"/>
<line x1="450.95" y1="492.60" x2="450.95" y2="494.30" stroke="#111" stroke-width="1.3"/>
<line x1="448.65" y1="493.20" x2="453.25" y2="493.20" stroke="#111" stroke-width="1.4"/>
<rect x="447.30" y="495.10" width="7.30" height="60.30" fill="url(#hs)" stroke="#111" stroke-width="1.6"/>
<line x1="463.15" y1="473.80" x2="463.15" y2="476.60" stroke="#111" stroke-width="1.3"/>
<line x1="460.85" y1="474.40" x2="465.45" y2="474.40" stroke="#111" stroke-width="1.4"/>
<rect x="459.50" y="477.40" width="7.30" height="78.00" fill="url(#hs)" stroke="#111" stroke-width="1.6"/>
<line x1="475.35" y1="487.70" x2="475.35" y2="490.80" stroke="#111" stroke-width="1.3"/>
<line x1="473.05" y1="488.30" x2="477.65" y2="488.30" stroke="#111" stroke-width="1.4"/>
<rect x="471.70" y="491.60" width="7.30" height="63.80" fill="url(#hs)" stroke="#111" stroke-width="1.6"/>
<line x1="487.75" y1="467.00" x2="487.75" y2="469.50" stroke="#111" stroke-width="1.3"/>
<line x1="485.45" y1="467.60" x2="490.05" y2="467.60" stroke="#111" stroke-width="1.4"/>
<rect x="484.10" y="470.30" width="7.30" height="85.10" fill="url(#hs)" stroke="#111" stroke-width="1.6"/>
<path d="M350.40,458.10L350.40,454.50M350.40,458.10L353.82,456.99M350.40,458.10L352.52,461.01M350.40,458.10L348.28,461.01M350.40,458.10L346.98,456.99" stroke="#111" stroke-width="1.3" stroke-linecap="butt" fill="none"/>
<path d="M374.25,462.70L374.25,459.10M374.25,462.70L377.67,461.59M374.25,462.70L376.37,465.61M374.25,462.70L372.13,465.61M374.25,462.70L370.83,461.59" stroke="#111" stroke-width="1.3" stroke-linecap="butt" fill="none"/>
<path d="M406.10,466.50L406.10,462.90M406.10,466.50L409.52,465.39M406.10,466.50L408.22,469.41M406.10,466.50L403.98,469.41M406.10,466.50L402.68,465.39" stroke="#111" stroke-width="1.3" stroke-linecap="butt" fill="none"/>
<path d="M430.60,461.15L430.60,457.55M430.60,461.15L434.02,460.04M430.60,461.15L432.72,464.06M430.60,461.15L428.48,464.06M430.60,461.15L427.18,460.04" stroke="#111" stroke-width="1.3" stroke-linecap="butt" fill="none"/>
<path d="M463.40,469.65L463.40,466.05M463.40,469.65L466.82,468.54M463.40,469.65L465.52,472.56M463.40,469.65L461.28,472.56M463.40,469.65L459.98,468.54" stroke="#111" stroke-width="1.3" stroke-linecap="butt" fill="none"/>
<path d="M487.70,462.70L487.70,459.10M487.70,462.70L491.12,461.59M487.70,462.70L489.82,465.61M487.70,462.70L485.58,465.61M487.70,462.70L484.28,461.59" stroke="#111" stroke-width="1.3" stroke-linecap="butt" fill="none"/>
<text x="351.15" y="433.10" font-size="15" text-anchor="middle" font-weight="normal" fill="#111">LN</text>
<text x="411.40" y="433.10" font-size="15" text-anchor="middle" font-weight="normal" fill="#111">Blood</text>
<text x="465.00" y="433.10" font-size="15" text-anchor="middle" font-weight="normal" fill="#111">SP</text>
<text x="340.20" y="557.70" font-size="11.9" text-anchor="end" font-weight="normal" fill="#111" transform="rotate(-90 340.20 557.70)">Medium</text>
<text x="352.50" y="557.70" font-size="11.9" text-anchor="end" font-weight="normal" fill="#111" transform="rotate(-90 352.50 557.70)">Poly-G3</text>
<text x="365.70" y="557.70" font-size="11.9" text-anchor="end" font-weight="normal" fill="#111" transform="rotate(-90 365.70 557.70)">Poly-T3</text>
<text x="378.00" y="557.70" font-size="11.9" text-anchor="end" font-weight="normal" fill="#111" transform="rotate(-90 378.00 557.70)">Inhibitors</text>
<text x="397.60" y="557.70" font-size="11.9" text-anchor="end" font-weight="normal" fill="#111" transform="rotate(-90 397.60 557.70)">Medium</text>
<text x="409.90" y="557.70" font-size="11.9" text-anchor="end" font-weight="normal" fill="#111" transform="rotate(-90 409.90 557.70)">Poly-G3</text>
<text x="423.10" y="557.70" font-size="11.9" text-anchor="end" font-weight="normal" fill="#111" transform="rotate(-90 423.10 557.70)">Poly-T3</text>
<text x="435.40" y="557.70" font-size="11.9" text-anchor="end" font-weight="normal" fill="#111" transform="rotate(-90 435.40 557.70)">Inhibitors</text>
<text x="455.00" y="557.70" font-size="11.9" text-anchor="end" font-weight="normal" fill="#111" transform="rotate(-90 455.00 557.70)">Medium</text>
<text x="467.30" y="557.70" font-size="11.9" text-anchor="end" font-weight="normal" fill="#111" transform="rotate(-90 467.30 557.70)">Poly-G3</text>
<text x="480.50" y="557.70" font-size="11.9" text-anchor="end" font-weight="normal" fill="#111" transform="rotate(-90 480.50 557.70)">Poly-T3</text>
<text x="492.80" y="557.70" font-size="11.9" text-anchor="end" font-weight="normal" fill="#111" transform="rotate(-90 492.80 557.70)">Inhibitors</text>
<text x="321.00" y="562.50" font-size="12" text-anchor="end" font-weight="normal" fill="#111" transform="rotate(-44 321.00 562.50)">Responding</text>
<text x="331.00" y="572.50" font-size="12" text-anchor="end" font-weight="normal" fill="#111" transform="rotate(-44 331.00 572.50)">CD4<tspan baseline-shift="38%" font-size="72%">+</tspan> T cells</text>
<line x1="332.10" y1="608.60" x2="498.00" y2="608.60" stroke="#111" stroke-width="1.1"/>
<text x="317.70" y="624.00" font-size="13" text-anchor="start" font-weight="normal" fill="#111" textLength="164.30" lengthAdjust="spacingAndGlyphs">Responding CD4<tspan baseline-shift="38%" font-size="72%">+</tspan> T cells +</text>
<text x="284.60" y="640.50" font-size="13" text-anchor="start" font-weight="normal" fill="#111" textLength="234.40" lengthAdjust="spacingAndGlyphs">purified transferred CD8<tspan baseline-shift="38%" font-size="72%">+</tspan> T cells (10:1)</text>
</svg>
</body></html>
